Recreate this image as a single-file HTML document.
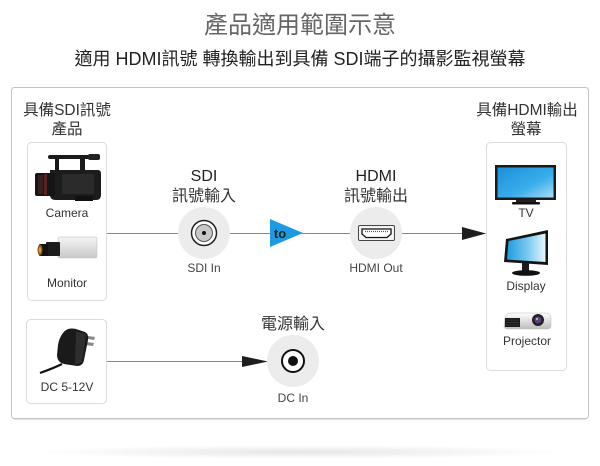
<!DOCTYPE html>
<html>
<head>
<meta charset="utf-8">
<style>
  html,body{margin:0;padding:0;background:#fff;}
  svg{display:block;}
  text{font-family:"Liberation Sans","Noto Sans CJK TC",sans-serif;}
</style>
</head>
<body>
<svg width="600" height="466" viewBox="0 0 600 466" xmlns="http://www.w3.org/2000/svg">
  <defs>
    <radialGradient id="shadow" cx="50%" cy="50%" r="50%">
      <stop offset="0%" stop-color="#000" stop-opacity="0.10"/>
      <stop offset="100%" stop-color="#000" stop-opacity="0"/>
    </radialGradient>
    <linearGradient id="tvscr" x1="0" y1="0" x2="1" y2="1">
      <stop offset="0%" stop-color="#1a8fd9"/>
      <stop offset="60%" stop-color="#3aaeea"/>
      <stop offset="100%" stop-color="#a9dcf5"/>
    </linearGradient>
    <linearGradient id="dispscr" x1="0" y1="0" x2="1" y2="0">
      <stop offset="0%" stop-color="#1f9be2"/>
      <stop offset="55%" stop-color="#7ccaf0"/>
      <stop offset="100%" stop-color="#e6f5fc"/>
    </linearGradient>
    <linearGradient id="camwhite" x1="0" y1="0" x2="0" y2="1">
      <stop offset="0%" stop-color="#f4f4f4"/>
      <stop offset="100%" stop-color="#c9c9c9"/>
    </linearGradient>
    <linearGradient id="proj" x1="0" y1="0" x2="0" y2="1">
      <stop offset="0%" stop-color="#ffffff"/>
      <stop offset="100%" stop-color="#bdbdbd"/>
    </linearGradient>
  </defs>

  <!-- Titles -->
  <text x="300" y="33" font-size="24" fill="#666" text-anchor="middle">產品適用範圍示意</text>
  <text x="300" y="65" font-size="18" fill="#222" text-anchor="middle">適用 HDMI訊號 轉換輸出到具備 SDI端子的攝影監視螢幕</text>

  <!-- bottom shadow -->
  <ellipse cx="300" cy="452" rx="265" ry="7" fill="url(#shadow)"/>

  <!-- Outer box -->
  <rect x="11.5" y="87.5" width="577" height="331" rx="3" fill="#fff" stroke="#c4c4c4" stroke-width="1"/>
  <line x1="14" y1="419.5" x2="586" y2="419.5" stroke="#e2e2e2" stroke-width="1"/>

  <!-- Panel labels -->
  <text x="67" y="115" font-size="15.5" fill="#333" text-anchor="middle">具備SDI訊號</text>
  <text x="67" y="134" font-size="15.5" fill="#333" text-anchor="middle">產品</text>
  <text x="527" y="115" font-size="15.5" fill="#333" text-anchor="middle">具備HDMI輸出</text>
  <text x="526" y="134" font-size="15.5" fill="#333" text-anchor="middle">螢幕</text>

  <!-- Inner boxes -->
  <rect x="27.5" y="142.5" width="79" height="158" rx="4" fill="#fff" stroke="#dcdcdc"/>
  <rect x="26.5" y="319.5" width="80" height="84" rx="4" fill="#fff" stroke="#dcdcdc"/>
  <rect x="486.5" y="142.5" width="80" height="228" rx="4" fill="#fff" stroke="#dcdcdc"/>

  <!-- Main connector line -->
  <line x1="107" y1="233.5" x2="464" y2="233.5" stroke="#8a8a8a" stroke-width="1"/>
  <polygon points="462,227 486,233.5 462,240" fill="#1e1e1e"/>

  <!-- DC line -->
  <line x1="107" y1="361.5" x2="244" y2="361.5" stroke="#8a8a8a" stroke-width="1"/>
  <polygon points="242,356 268,361.5 242,367" fill="#1e1e1e"/>

  <!-- SDI circle -->
  <circle cx="204" cy="233" r="26" fill="#ececec"/>
  <circle cx="204" cy="233" r="12.5" fill="#fff" stroke="#222" stroke-width="1.5"/>
  <circle cx="204" cy="233" r="8.5" fill="#c8c8c8" stroke="#555" stroke-width="1"/>
  <circle cx="204" cy="233" r="2" fill="#111"/>
  <text x="204" y="181" font-size="16" fill="#222" text-anchor="middle">SDI</text>
  <text x="204" y="201" font-size="16" fill="#333" text-anchor="middle">訊號輸入</text>
  <text x="204" y="272" font-size="12" fill="#444" text-anchor="middle">SDI In</text>

  <!-- to triangle -->
  <polygon points="270,219 303,233 270,247" fill="#1e9be0"/>
  <text x="280" y="238" font-size="13" font-weight="bold" fill="#222" text-anchor="middle">to</text>

  <!-- HDMI circle -->
  <circle cx="376" cy="233" r="26" fill="#ececec"/>
  <rect x="358.5" y="225.5" width="36" height="15" rx="1.5" fill="#f4f4f4" stroke="#444" stroke-width="1"/>
  <path d="M362,229 H391 V234 L387,237.5 H366 L362,234 Z" fill="#fff" stroke="#111" stroke-width="1.3"/>
  <line x1="365" y1="231.5" x2="388" y2="231.5" stroke="#555" stroke-width="1.2" stroke-dasharray="1,1"/>
  <text x="376" y="181" font-size="16" fill="#222" text-anchor="middle">HDMI</text>
  <text x="376" y="201" font-size="16" fill="#333" text-anchor="middle">訊號輸出</text>
  <text x="376" y="272" font-size="12" fill="#444" text-anchor="middle">HDMI Out</text>

  <!-- DC circle -->
  <circle cx="293" cy="361" r="26" fill="#ececec"/>
  <circle cx="293" cy="361" r="11" fill="#fff" stroke="#111" stroke-width="2"/>
  <circle cx="293" cy="361" r="5" fill="#111"/>
  <text x="293" y="329" font-size="16" fill="#333" text-anchor="middle">電源輸入</text>
  <text x="293" y="402" font-size="12" fill="#444" text-anchor="middle">DC In</text>

  <!-- Camcorder -->
  <g>
    <rect x="48" y="155" width="46" height="4" rx="2" fill="#1a1a1a"/>
    <rect x="88" y="154" width="12" height="6" rx="2" fill="#222"/>
    <rect x="55" y="158" width="4" height="13" fill="#1a1a1a"/>
    <rect x="80" y="158" width="5" height="13" fill="#1a1a1a"/>
    <path d="M50,170 H98 Q101,170 101,174 V195 Q101,200 96,200 H56 Q50,200 50,195 Z" fill="#1c1c1c"/>
    <rect x="62" y="174" width="32" height="20" fill="#2b2b2b"/>
    <rect x="35" y="173" width="20" height="23" rx="2" fill="#151515"/>
    <rect x="38" y="175" width="5" height="19" fill="#3a2020"/>
    <rect x="44" y="174" width="3" height="21" fill="#5a2424"/>
    <rect x="75" y="196" width="18" height="5" fill="#111"/>
  </g>
  <text x="67" y="217" font-size="12" fill="#333" text-anchor="middle">Camera</text>

  <!-- CCTV box camera -->
  <g>
    <rect x="58" y="237" width="39" height="21" rx="1.5" fill="url(#camwhite)" stroke="#bdbdbd" stroke-width="0.5"/>
    <rect x="46" y="242" width="14" height="14" rx="1" fill="#1c1c1c"/>
    <rect x="39" y="244" width="9" height="12" rx="1" fill="#111"/>
    <ellipse cx="40" cy="250" rx="2.5" ry="5.5" fill="#8a5a1a"/>
    <ellipse cx="40" cy="250" rx="1.2" ry="3" fill="#e0a040"/>
  </g>
  <text x="67" y="287" font-size="12" fill="#333" text-anchor="middle">Monitor</text>

  <!-- Power adapter -->
  <g>
    <path d="M88,336 L95,337 L94,340 L88,339 Z" fill="#888"/>
    <path d="M86,342 L94,343 L93,346 L85,345 Z" fill="#888"/>
    <path d="M63,333 Q67,327 76,329 L85,332 Q89,334 88,340 L84,360 Q83,366 77,366 L64,364 Q57,362 57,355 L58,345 Q59,338 63,333 Z" fill="#1a1a1a"/>
    <path d="M76,331 L86,334 L82,362 L75,365 Z" fill="#2e2e2e"/>
    <path d="M62,364 Q54,368 40,373" stroke="#111" stroke-width="2.2" fill="none"/>
  </g>
  <text x="67" y="391" font-size="12" fill="#333" text-anchor="middle">DC 5-12V</text>

  <!-- TV -->
  <g>
    <rect x="495" y="165" width="61" height="35" fill="#1a1a1a"/>
    <rect x="497.5" y="167.5" width="56" height="30" fill="url(#tvscr)"/>
    <rect x="516" y="200" width="20" height="2" fill="#222"/>
    <rect x="512" y="202" width="28" height="2.5" rx="1" fill="#111"/>
  </g>
  <text x="526" y="217" font-size="12" fill="#333" text-anchor="middle">TV</text>

  <!-- Display -->
  <g>
    <polygon points="506,239 548,230 548,265 504,262" fill="#141414"/>
    <polygon points="508.5,241 545.5,233.5 545.5,262 507,259.5" fill="url(#dispscr)"/>
    <rect x="522" y="263" width="7" height="8" fill="#1a1a1a"/>
    <ellipse cx="526" cy="273" rx="14" ry="2.8" fill="#111"/>
  </g>
  <text x="526" y="290" font-size="12" fill="#333" text-anchor="middle">Display</text>

  <!-- Projector -->
  <g>
    <path d="M505,317 Q506,313 512,313 H545 Q551,313 551,318 V326 Q551,329 547,329 H508 Q504,329 504,326 Z" fill="url(#proj)" stroke="#bbb" stroke-width="0.5"/>
    <rect x="505" y="318" width="15" height="9" fill="#1a1a1a"/>
    <line x1="506" y1="320" x2="519" y2="320" stroke="#444" stroke-width="0.6"/>
    <line x1="506" y1="322.5" x2="519" y2="322.5" stroke="#444" stroke-width="0.6"/>
    <line x1="506" y1="325" x2="519" y2="325" stroke="#444" stroke-width="0.6"/>
    <circle cx="538" cy="320" r="6" fill="#222"/>
    <circle cx="538" cy="320" r="3.5" fill="#5a3f7a"/>
    <circle cx="537" cy="319" r="1.2" fill="#b9a6d8"/>
  </g>
  <text x="527" y="345" font-size="12" fill="#333" text-anchor="middle">Projector</text>
</svg>
</body>
</html>
